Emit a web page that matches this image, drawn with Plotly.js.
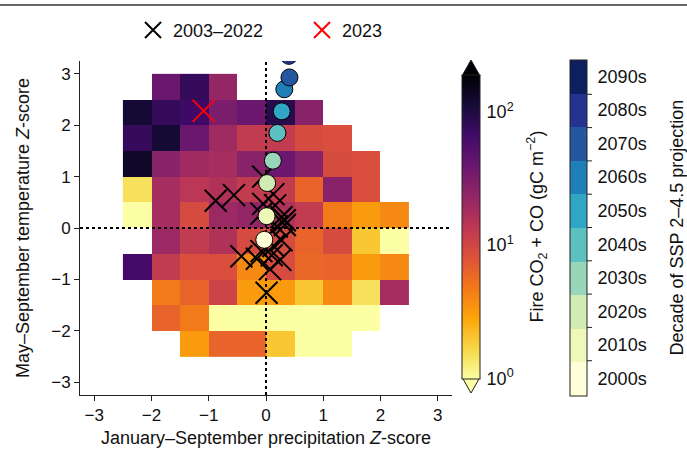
<!DOCTYPE html>
<html>
<head>
<meta charset="utf-8">
<script src="https://cdn.plot.ly/plotly-3.0.1.min.js"></script>
<style>html,body{margin:0;padding:0;background:#fff;}#chart{width:687px;height:461px;}</style>
</head>
<body>
<div id="chart"></div>
<script>
// ---------- DATA ----------
const precipCenters = [-2.25, -1.75, -1.25, -0.75, -0.25, 0.25, 0.75, 1.25, 1.75, 2.25];
const tempCenters = [2.75, 2.25, 1.75, 1.25, 0.75, 0.25, -0.25, -0.75, -1.25, -1.75, -2.25];
// Fire CO2 + CO emissions (gC m^-2) per bin, rows follow tempCenters
const emissions = [
  [null, 39, 78, 23, null, null, null, null, null, null],
  [117, 78, 69, 32, 39, 91, 27, null, null, null],
  [78, 117, 39, 20, 12.6, 12.6, 9.3, 8.7, null, null],
  [132, 27, 20, 18.6, 27, 39, 27, 9.3, 8.7, null],
  [1.5, 18.6, 14, 16, 12.6, 12.6, 6.3, 27, 8.7, null],
  [1.0, 18.6, 9.3, 21.4, 23, 16, 12.6, 4.7, 3.2, 4.0],
  [null, 21.4, 12.6, 16, 9.3, 9.3, 6.3, 9.3, 2.0, 1.0],
  [66, 12.6, 8.7, 8.7, 4.0, 9.3, 6.0, 6.3, 3.2, 4.0],
  [null, 4.7, 6.3, 10.7, 3.2, 3.2, 2.0, 4.0, 1.5, 18.6],
  [null, 6.3, 4.7, 1.0, 1.0, 1.0, 1.0, 1.0, 1.0, null],
  [null, null, 3.2, 6.3, 6.3, 2.0, 1.0, 1.0, null, null]
];
const cbTickVals = [0, 1, 2];
const cbTickText = ['10<sup>0</sup>', '10<sup>1</sup>', '10<sup>2</sup>'];

// observed years 2003–2022 (precip Z, temp Z)
const obsPrecip = [-0.88, -0.56, -0.05, 0.13, -0.05, 0.16, -0.08, 0.27, 0.33, 0.19, 0.27, 0.13, -0.43, -0.16, 0.10, 0.25, 0.07, 0.01, 0.33, -0.08];
const obsTemp   = [0.53, 0.64, 1.00, 0.66, 0.47, 0.44, 0.28, 0.21, 0.06, 0.03, -0.24, -0.35, -0.55, -0.60, -0.53, -0.62, -0.80, -1.26, 0.15, -0.45];
// 2023
const y2023Precip = [-1.09];
const y2023Temp = [2.28];

// SSP2-4.5 decadal projections
const decadeLabels = ['2000s', '2010s', '2020s', '2030s', '2040s', '2050s', '2060s', '2070s', '2080s', '2090s'];
const projPrecip = [-0.03, 0.01, 0.02, 0.12, 0.20, 0.275, 0.32, 0.41, 0.40, 0.45];
const projTemp   = [-0.23, 0.23, 0.875, 1.31, 1.85, 2.27, 2.70, 2.93, 3.35, 3.80];
const decadeColors = ['#fefed8', '#eef8b8', '#d0ecb4', '#98d5b9', '#5cc0c0', '#31a6c4', '#1f80b8', '#2556a0', '#243390', '#0c2060'];

const axisTicks = [-3, -2, -1, 0, 1, 2, 3];
const refPrecip = 0, refTemp = 0;

// ---------- STYLE / LAYOUT ----------
const FONT = '"Liberation Sans", Arial, Helvetica, sans-serif';
const W = 687, H = 461;
const M = {l: 80, r: 235, t: 58, b: 66};
const PW = W - M.l - M.r, PH = H - M.t - M.b;
const px2x = p => (p - M.l) / PW;
const px2y = p => (H - M.b - p) / PH;
const RANGE = [-3.25, 3.25];

const infernoR = [
  [0.0, '#fcffa4'], [0.1, '#f6d746'], [0.2, '#fca50a'], [0.3, '#f37819'], [0.4, '#dd513a'],
  [0.5, '#bc3754'], [0.6, '#932667'], [0.7, '#6a176e'], [0.8, '#420a68'], [0.9, '#160b39'], [1.0, '#000004']
];
const zLog = emissions.map(r => r.map(v => v == null ? null : Math.log10(v)));
const ZMAX = 2.28;

const decadeScale = [];
decadeColors.forEach((c, i) => {
  decadeScale.push([i / decadeColors.length, c]);
  decadeScale.push([(i + 1) / decadeColors.length, c]);
});

// colorbar geometry (pixels)
const cb1 = {x0: 462, x1: 480, top: 73, bot: 377};
const cb2 = {x0: 570, x1: 587, top: 58, bot: 394};

const traces = [
  {
    type: 'heatmap', x: precipCenters, y: tempCenters, z: zLog,
    colorscale: infernoR, zmin: 0, zmax: ZMAX, hoverinfo: 'skip', showlegend: false,
    colorbar: {
      x: px2x(cb1.x0), xanchor: 'left', xpad: 0, thickness: cb1.x1 - cb1.x0,
      y: px2y((cb1.top + cb1.bot) / 2), yanchor: 'middle', ypad: 0,
      lenmode: 'pixels', len: cb1.bot - cb1.top,
      outlinewidth: 1, outlinecolor: '#222',
      tickvals: cbTickVals, ticktext: cbTickText, ticks: 'outside', ticklen: 3, tickwidth: 1, tickcolor: 'rgba(0,0,0,0)',
      tickfont: {family: FONT, size: 18, color: '#111'}
    }
  },
  {type: 'scatter', mode: 'lines', x: [refPrecip, refPrecip], y: RANGE, line: {color: '#000', width: 2, dash: 'dot'}, hoverinfo: 'skip', showlegend: false},
  {type: 'scatter', mode: 'lines', x: RANGE, y: [refTemp, refTemp], line: {color: '#000', width: 2, dash: 'dot'}, hoverinfo: 'skip', showlegend: false},
  {
    type: 'scatter', mode: 'markers', name: '2003–2022', x: obsPrecip, y: obsTemp,
    marker: {symbol: 'x-thin-open', size: 22, color: '#000', line: {color: '#000', width: 2}}, hoverinfo: 'skip'
  },
  {
    type: 'scatter', mode: 'markers', name: '2023', x: y2023Precip, y: y2023Temp,
    marker: {symbol: 'x-thin-open', size: 22, color: '#ff0000', line: {color: '#ff0000', width: 2}}, hoverinfo: 'skip'
  },
  {
    type: 'scatter', mode: 'markers', name: 'SSP2-4.5', x: projPrecip, y: projTemp, showlegend: false,
    hoverinfo: 'skip', cliponaxis: true,
    marker: {
      size: 17, color: decadeLabels.map((d, i) => i), colorscale: decadeScale, cmin: -0.5, cmax: decadeLabels.length - 0.5,
      line: {color: '#000', width: 1},
      showscale: true,
      colorbar: {
        x: px2x(cb2.x0), xanchor: 'left', xpad: 0, thickness: cb2.x1 - cb2.x0,
        y: px2y((cb2.top + cb2.bot) / 2), yanchor: 'middle', ypad: 0,
        lenmode: 'pixels', len: cb2.bot - cb2.top,
        outlinewidth: 1, outlinecolor: '#222',
        tickvals: decadeLabels.map((d, i) => i), ticktext: decadeLabels,
        ticks: 'outside', ticklen: 7, tickcolor: 'rgba(0,0,0,0)',
        tickfont: {family: FONT, size: 18, color: '#111'}
      }
    }
  }
];

const shapes = [
  // extend triangles on emissions colorbar
  {type: 'path', xref: 'paper', yref: 'paper', layer: 'above',
   path: `M ${px2x(cb1.x0)} ${px2y(cb1.top)} L ${px2x(cb1.x1)} ${px2y(cb1.top)} L ${px2x((cb1.x0 + cb1.x1) / 2)} ${px2y(cb1.top - 16)} Z`,
   fillcolor: '#000004', line: {color: '#222', width: 1}},
  {type: 'path', xref: 'paper', yref: 'paper', layer: 'above',
   path: `M ${px2x(cb1.x0)} ${px2y(cb1.bot)} L ${px2x(cb1.x1)} ${px2y(cb1.bot)} L ${px2x((cb1.x0 + cb1.x1) / 2)} ${px2y(cb1.bot + 16)} Z`,
   fillcolor: '#fcffa4', line: {color: '#222', width: 1}},
  // thin frame line at the top edge of the figure
  {type: 'line', xref: 'paper', yref: 'paper', layer: 'above',
   x0: px2x(0), x1: px2x(W), y0: px2y(1.5), y1: px2y(1.5), line: {color: '#333', width: 1.5}}
];
// boundary ticks on decade colorbar
for (let k = 1; k < decadeLabels.length; k++) {
  const py = cb2.top + k * (cb2.bot - cb2.top) / decadeLabels.length;
  shapes.push({type: 'line', xref: 'paper', yref: 'paper', layer: 'above',
    x0: px2x(cb2.x1), x1: px2x(cb2.x1 + 5), y0: px2y(py), y1: px2y(py), line: {color: '#222', width: 1}});
}

const annotations = [
  {xref: 'paper', yref: 'paper', x: px2x(537), y: px2y(225), text: 'Fire CO<sub>2</sub> + CO (gC m<sup>−2</sup>)',
   textangle: -90, showarrow: false, font: {family: FONT, size: 18, color: '#111'}, xanchor: 'center', yanchor: 'middle'},
  {xref: 'paper', yref: 'paper', x: px2x(677), y: px2y(226), text: 'Decade of SSP 2–4.5 projection',
   textangle: -90, showarrow: false, font: {family: FONT, size: 18, color: '#111'}, xanchor: 'center', yanchor: 'middle'}
];

const axisCommon = {
  range: RANGE, tickvals: axisTicks, ticks: 'outside', ticklen: 5, tickwidth: 1, tickcolor: '#222',
  showline: true, linecolor: '#222', linewidth: 1, showgrid: false, zeroline: false, mirror: false,
  tickfont: {family: FONT, size: 17, color: '#111'}, fixedrange: true
};

const layout = {
  width: W, height: H, margin: M, paper_bgcolor: '#fff', plot_bgcolor: '#fff',
  font: {family: FONT, color: '#111'},
  xaxis: Object.assign({}, axisCommon, {title: {text: 'January–September precipitation <i>Z</i>-score', font: {family: FONT, size: 18, color: '#111'}, standoff: 6}}),
  yaxis: Object.assign({}, axisCommon, {title: {text: 'May–September temperature <i>Z</i>-score', font: {family: FONT, size: 18, color: '#111'}, standoff: 16}}),
  showlegend: true,
  legend: {orientation: 'h', x: px2x(133), xanchor: 'left', y: px2y(27), yanchor: 'middle',
    font: {family: FONT, size: 18, color: '#111'}, entrywidth: 124, entrywidthmode: 'pixels', bgcolor: 'rgba(0,0,0,0)'},
  shapes: shapes, annotations: annotations
};

Plotly.newPlot('chart', traces, layout, {staticPlot: true, displayModeBar: false});
</script>
</body>
</html>
